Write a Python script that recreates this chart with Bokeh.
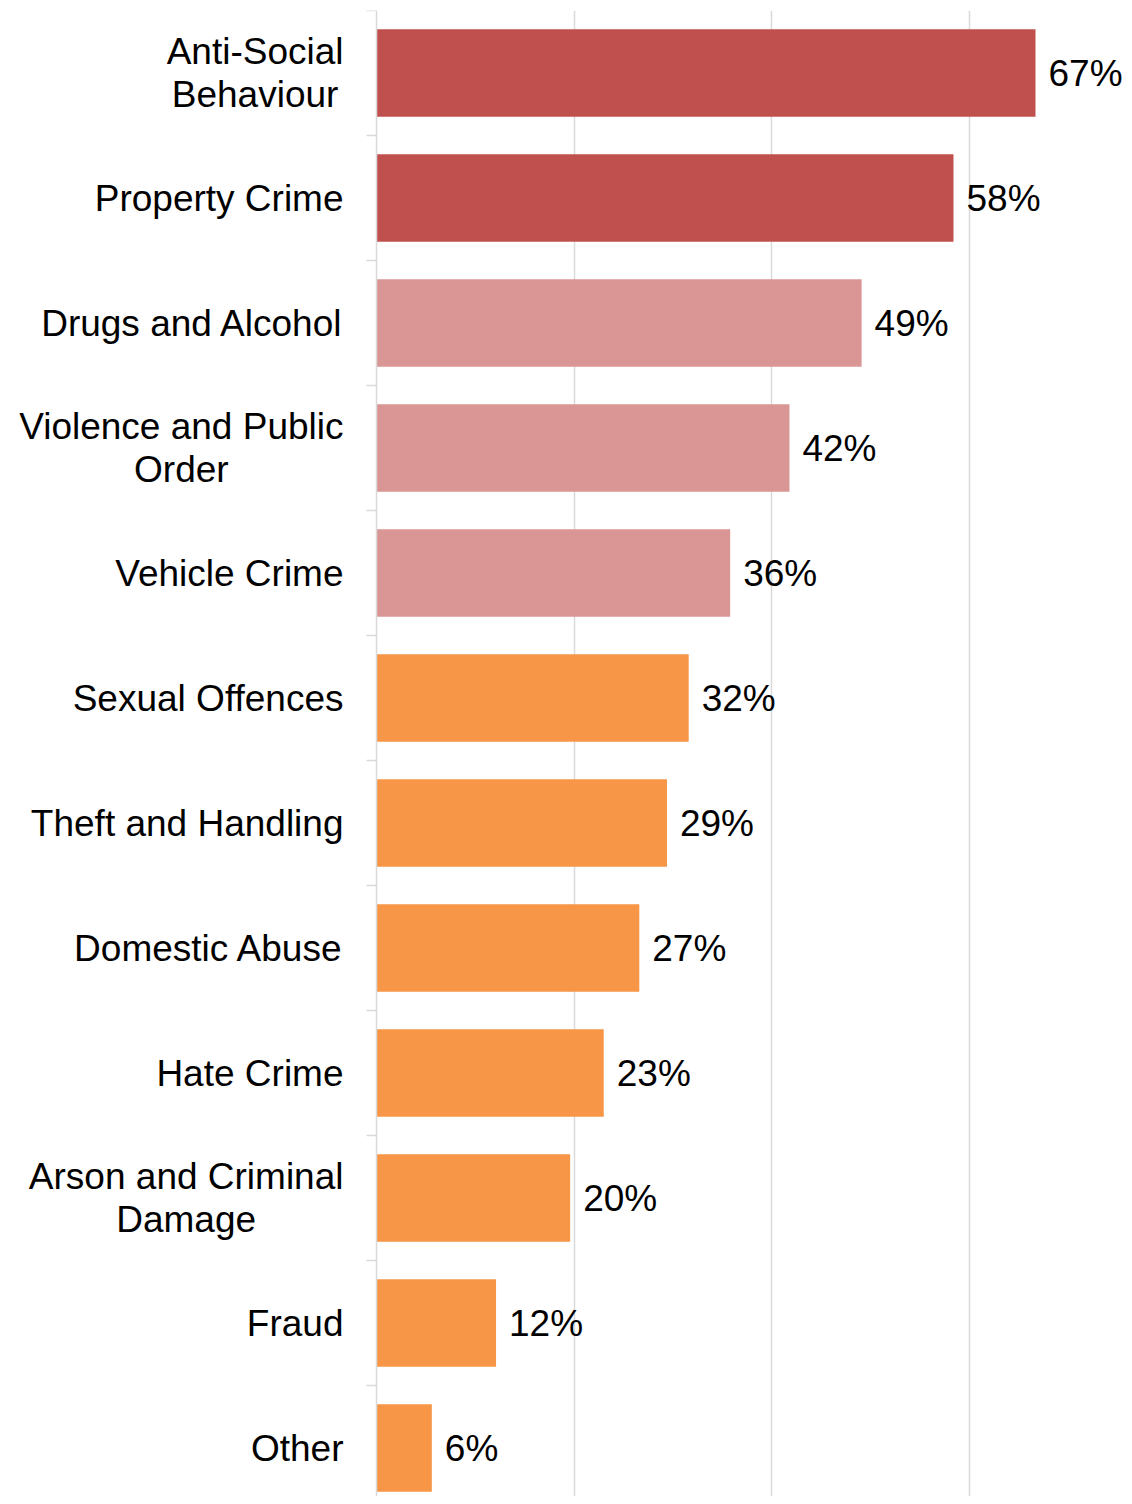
from bokeh.plotting import figure
from bokeh.models import ColumnDataSource, Range1d, FixedTicker, LabelSet, Span
from bokeh.embed import file_html
from bokeh.resources import INLINE
from bokeh.core.properties import value

categories = ["Anti-Social\nBehaviour", "Property Crime", "Drugs and Alcohol",
              "Violence and Public\nOrder", "Vehicle Crime", "Sexual Offences",
              "Theft and Handling", "Domestic Abuse", "Hate Crime",
              "Arson and Criminal\nDamage", "Fraud", "Other"]
percent = [66.7, 58.4, 49.1, 41.8, 35.8, 31.6, 29.4, 26.6, 23.0, 19.6, 12.1, 5.6]
tier = ["high", "high", "mid", "mid", "mid", "low", "low", "low", "low", "low", "low", "low"]
grid_ticks = [20, 40, 60]

tier_colors = {"high": "#C0504D", "mid": "#DA9694", "low": "#F79646"}

n = len(categories)
pos = list(range(n))
src = ColumnDataSource(dict(
    y=pos, v=percent,
    color=[tier_colors[t] for t in tier],
    lab=[f"{v:.0f}%" for v in percent],
))

FONT = "Liberation Sans"
GRAY = "#d9d9d9"
PX = 9.88          # screen pixels per percentage point
BAND = 125.0       # screen pixels per category band
LEFT = 376         # pixels reserved for the category labels
TOP = 10
W, H = 1124, 1496

p = figure(width=W, height=H, output_backend="svg", toolbar_location=None,
           x_range=Range1d(-LEFT / PX, (W - LEFT) / PX),
           y_range=Range1d(-0.5 + (H - TOP) / BAND, -0.5),
           min_border_top=TOP, min_border_bottom=0, min_border_right=0, min_border_left=0)
p.outline_line_color = None
p.background_fill_color = "white"
p.border_fill_color = "white"
p.xaxis.visible = False
p.yaxis.visible = False
p.ygrid.visible = False
p.xgrid.ticker = FixedTicker(ticks=grid_ticks)
p.xgrid.grid_line_color = GRAY
p.xgrid.grid_line_width = 1.5

# bars
p.hbar(y="y", left=0, right="v", height=0.7, fill_color="color", line_color=None, source=src)

# category axis: line + boundary ticks
p.add_layout(Span(location=0, dimension="height", line_color=GRAY, line_width=1.5))
bounds = [i - 0.5 for i in range(n + 1)]
p.segment(x0=[-10 / PX] * len(bounds), x1=[0] * len(bounds), y0=bounds, y1=bounds,
          line_color=GRAY, line_width=1.5)

# category labels
p.text(x=[0] * n, y=pos, text=categories, x_offset=-33, anchor="center_right",
       text_align="center", text_baseline="middle", text_font=value(FONT),
       text_font_size=value("37px"), text_color="#000000", text_line_height=1.03)

# value labels
labels = LabelSet(x="v", y="y", text="lab", source=src, x_offset=13,
                  text_baseline="middle", text_align="left",
                  text_font=value(FONT), text_font_size="37px", text_color="#000000")
p.add_layout(labels)

open("out.html", "w").write(file_html(p, INLINE))
